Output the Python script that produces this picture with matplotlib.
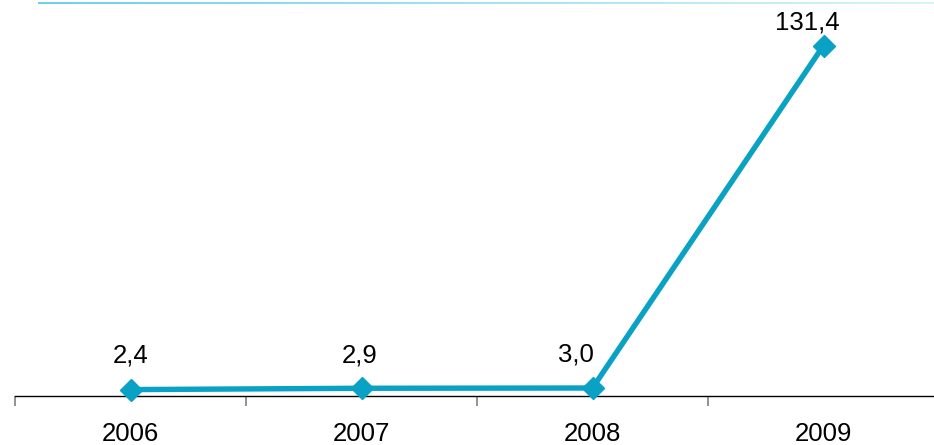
import numpy as np
import matplotlib
matplotlib.use("Agg")
import matplotlib.pyplot as plt
from matplotlib.collections import LineCollection
from matplotlib.ticker import FixedLocator

years = ["2006", "2007", "2008", "2009"]
values = [2.4, 2.9, 3.0, 131.4]
labels = ["2,4", "2,9", "3,0", "131,4"]

W, H = 934, 445
fig = plt.figure(figsize=(W / 100, H / 100), dpi=100)
plt.rcParams['font.family'] = ['Liberation Sans', 'DejaVu Sans']

ax = fig.add_axes([15 / W, (H - 396) / H, 1 - 15 / W, 396 / H])
x = np.arange(len(years))
color = "#0AA2C4"
ax.plot(x, values, color=color, lw=3.9, marker="D", markersize=11.5,
        solid_joinstyle="miter", zorder=3, clip_on=False)

ax.set_xlim(-0.5, -0.5 + 919 / 231)
ax.set_ylim(0, 396 / 2.667)

for s in ["top", "right", "left"]:
    ax.spines[s].set_visible(False)
ax.spines["bottom"].set_color("black")
ax.spines["bottom"].set_linewidth(1.0)
ax.set_yticks([])

ax.xaxis.set_major_locator(FixedLocator(x))
ax.set_xticklabels(years, fontsize=18.5)
ax.tick_params(axis="x", which="major", length=0, pad=19)
ax.xaxis.set_minor_locator(FixedLocator(np.arange(-0.5, 4.0, 1.0)))
ax.tick_params(axis="x", which="minor", length=7, width=1.2, color="#808080")

offsets = [(0, 34), (-2, 33), (-17, 33), (-16, 23)]
for xi, v, lab, off in zip(x, values, labels, offsets):
    ax.annotate(lab, (xi, v), xytext=off, textcoords="offset pixels",
                ha="center", va="center", fontsize=18.5, color="black")

# top gradient rule
n = 200
xs = np.linspace(38 / W, 1.0, n + 1)
ys = np.full_like(xs, 1 - 2.5 / H)
segs = [[(xs[i], ys[i]), (xs[i + 1], ys[i + 1])] for i in range(n)]
c0 = np.array(matplotlib.colors.to_rgb("#55C6E4"))
c1 = np.array(matplotlib.colors.to_rgb("#D2F0F8"))
cols = [tuple(c0 + (c1 - c0) * t) for t in np.linspace(0, 1, n)]
lc = LineCollection(segs, colors=cols, linewidths=1.2, transform=fig.transFigure)
fig.add_artist(lc)

fig.savefig("out.png", dpi=100)
